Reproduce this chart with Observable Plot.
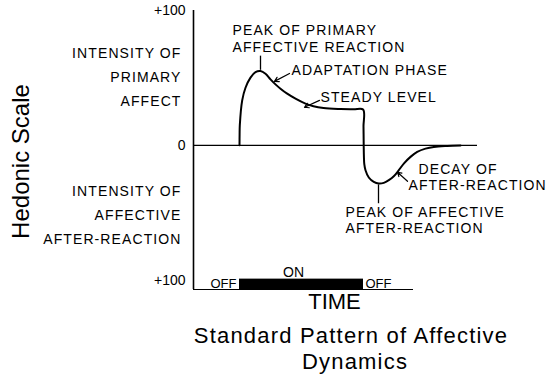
<!DOCTYPE html>
<html><head><meta charset="utf-8">
<script src="https://cdn.jsdelivr.net/npm/d3@7"></script>
<script src="https://cdn.jsdelivr.net/npm/@observablehq/plot@0.6"></script>
<style>
body{margin:0;background:#fff;}
#wrap{position:relative;width:550px;height:378px;overflow:hidden;background:#fff;}
.cap{position:absolute;text-align:center;font-family:"Liberation Sans",sans-serif;font-size:22px;letter-spacing:1.2px;line-height:22px;height:22px;color:#000;white-space:nowrap;}
#cap1{left:176px;top:325px;width:350px;}
#cap2{left:180px;top:351px;width:350px;}
</style></head><body>
<div id="wrap"><div id="chart"></div><div class="cap" id="cap1"></div><div class="cap" id="cap2"></div></div>
<script>
// Hedonic curve (time units, hedonic scale -100..+100)
const curveTime = [46, 46.1, 46.3, 48.7, 52, 57, 62, 67, 72, 77, 82, 87, 93.7, 102, 112, 120, 130, 147, 160, 169.6, 170, 170.2, 170.4, 170.8, 172, 175.3, 180.3, 185.3, 190.3, 195.3, 200.3, 205.3, 210.3, 217, 223.7, 232, 240.3, 253.7, 267];
const curveHedonic = [0, 8, 14.8, 33.3, 42.7, 50.2, 54.3, 55.1, 53.1, 48.9, 45.2, 42.0, 38.3, 34.6, 30.9, 28.9, 27.6, 26.9, 26.7, 26.6, 14, 0, -8, -14, -18.5, -23.9, -27.2, -28.4, -27.9, -25.9, -23, -18.5, -13.6, -8.6, -4.9, -2.5, -1.2, -0.5, -0.2];
// Stimulus
const stimulusOn = 46, stimulusOff = 170;
const zeroLineEnd = 284, timeAxisEnd = 220;
const scaleTop = 100, scaleBottom = -107, barTop = -99.3;
// Y tick labels
const yTicks = [100, 0, -100];
const yTickLabels = ["+100", "0", "+100"];
// Side labels
const sideLabels = ["INTENSITY OF\nPRIMARY\nAFFECT", "INTENSITY OF\nAFFECTIVE\nAFTER-REACTION"];
const sideLabelHedonic = [52.6, -49.6];
// Annotations
const annotationTexts = ["PEAK OF PRIMARY\nAFFECTIVE REACTION", "ADAPTATION PHASE", "STEADY LEVEL", "DECAY OF", "AFTER-REACTION", "PEAK OF AFFECTIVE\nAFTER-REACTION"];
const annotationTime = [39, 98, 127, 225, 215, 152];
const annotationHedonic = [79.5, 56.3, 36.3, -17, -29, -55.2];
// Leaders: [t1, h1, t2, h2]
const arrowLeaders = [[96, 53.3, 81, 47.4], [126, 33.3, 111, 28.2], [214, -26.7, 204, -20]];
const plainLeaders = [[67, 66.5, 67, 56], [185, -29, 185, -43]];
// Bottom labels
const stimulusLabels = ["OFF", "ON", "OFF"];
const stimulusLabelTime = [17, 100, 172];
const stimulusLabelHedonic = [-102.5, -94.5, -102.5];
const timeLabel = "TIME";
const titleLines = ["Standard Pattern of Affective", "Dynamics"];

const curve = curveTime.map((t, i) => ({t, h: curveHedonic[i]}));
const stim = [{start: stimulusOn, end: stimulusOff}];
const ann = annotationTexts.map((text, i) => ({text, t: annotationTime[i], h: annotationHedonic[i]}));
const side = sideLabels.map((text, i) => ({text, h: sideLabelHedonic[i]}));
const ticks = yTicks.map((v, i) => ({v, label: yTickLabels[i]}));
const stimLab = stimulusLabels.map((text, i) => ({text, t: stimulusLabelTime[i], h: stimulusLabelHedonic[i], anchor: text === "ON" ? "middle" : "start"}));
const arrows = arrowLeaders.map(([t1, h1, t2, h2]) => ({t1, h1, t2, h2}));
const links = plainLeaders.map(([t1, h1, t2, h2]) => ({t1, h1, t2, h2}));

const chart = Plot.plot({
  width: 550, height: 322, margin: 0,
  x: {domain: [0, 350], range: [193, 543], axis: null},
  y: {domain: [scaleBottom, scaleTop], range: [289, 10], axis: null},
  style: {fontFamily: "Liberation Sans, sans-serif", background: "white", color: "black"},
  marks: [
    Plot.ruleX([0], {y1: scaleBottom, y2: scaleTop, stroke: "black", strokeWidth: 1.6}),
    Plot.ruleY([0], {x1: 0, x2: zeroLineEnd, stroke: "black", strokeWidth: 1.2}),
    Plot.ruleY([scaleBottom], {x1: 0, x2: timeAxisEnd, stroke: "black", strokeWidth: 1.2}),
    Plot.rect(stim, {x1: "start", x2: "end", y1: scaleBottom, y2: barTop, fill: "black"}),
    Plot.line(curve, {x: "t", y: "h", curve: "catmull-rom", stroke: "black", strokeWidth: 2}),
    Plot.link(links, {x1: "t1", y1: "h1", x2: "t2", y2: "h2", stroke: "black", strokeWidth: 1.3}),
    Plot.arrow(arrows, {x1: "t1", y1: "h1", x2: "t2", y2: "h2", stroke: "black", strokeWidth: 1.2, headLength: 6, bend: 0}),
    Plot.text(ticks, {x: 0, y: "v", text: "label", textAnchor: "end", dx: -8, fontSize: 14, fill: "black"}),
    Plot.text(side, {x: 0, y: "h", text: "text", textAnchor: "end", dx: -12, fontSize: 14, lineHeight: 1.71, fill: "black"}),
    Plot.text(ann, {x: "t", y: "h", text: "text", textAnchor: "start", fontSize: 14, lineHeight: 1.2, fill: "black"}),
    Plot.text(stimLab, {x: "t", y: "h", text: "text", textAnchor: "start", fontSize: 13, fill: "black", filter: d => d.anchor === "start"}),
    Plot.text(stimLab, {x: "t", y: "h", text: "text", textAnchor: "middle", fontSize: 14, fill: "black", filter: d => d.anchor === "middle"}),
    Plot.text([timeLabel], {x: 141, y: -116.3, text: d => d, fontSize: 22, fill: "black"}),
    Plot.text(["Hedonic Scale"], {frameAnchor: "left", dx: 21, rotate: -90, textAnchor: "middle", fontSize: 24, fill: "black"})
  ]
});
// widen the capital-letter labels like the lettering of the original
d3.select(chart).selectAll("text").each(function() {
  const s = this.textContent;
  if (s.length > 4 && s === s.toUpperCase() && /[A-Z]/.test(s)) this.style.letterSpacing = "1.1px";
});
document.getElementById("chart").appendChild(chart);
document.getElementById("cap1").textContent = titleLines[0];
document.getElementById("cap2").textContent = titleLines[1];
</script>
</body></html>
